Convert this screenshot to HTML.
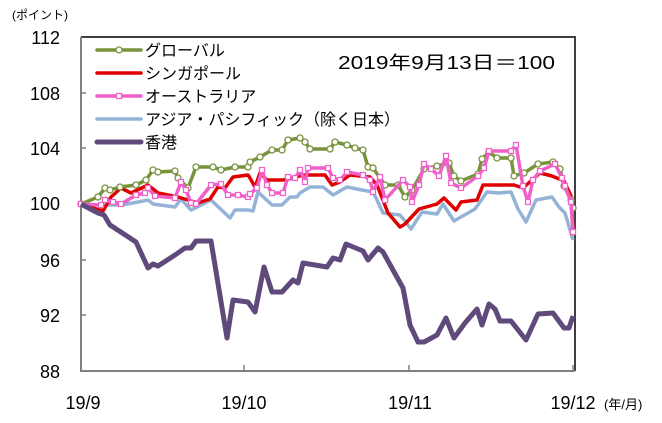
<!DOCTYPE html>
<html><head><meta charset="utf-8"><style>
html,body{margin:0;padding:0;background:#fff;}
svg text{font-family:"Liberation Sans","Noto Sans CJK JP",sans-serif;fill:#000;}
</style></head><body>
<svg id="s" width="662" height="418" viewBox="0 0 662 418" xmlns="http://www.w3.org/2000/svg">
<rect x="0" y="0" width="662" height="418" fill="#fff"/>
<text x="12" y="19" font-size="12">(ポイント)</text>
<g font-size="18" text-anchor="end">
<text x="60" y="44">112</text><text x="60" y="100">108</text><text x="60" y="155">104</text>
<text x="60" y="210">100</text><text x="60" y="267">96</text><text x="60" y="322">92</text><text x="60" y="378">88</text>
</g>
<g font-size="18" text-anchor="middle">
<text x="83" y="409">19/9</text><text x="244" y="409">19/10</text><text x="410" y="409">19/11</text><text x="573" y="409">19/12</text>
</g>
<text x="604" y="409" font-size="13">(年/月)</text>
<path d="M81,37 H575 V371" fill="none" stroke="#404040" stroke-width="2"/>
<path d="M81,37 V371 H575" fill="none" stroke="#808080" stroke-width="2"/>
<g stroke="#808080" stroke-width="1.5">
<line x1="81" y1="93" x2="86" y2="93"/><line x1="81" y1="148" x2="86" y2="148"/><line x1="81" y1="203" x2="86" y2="203"/>
<line x1="81" y1="260" x2="86" y2="260"/><line x1="81" y1="315" x2="86" y2="315"/>
<line x1="244" y1="371" x2="244" y2="365"/><line x1="409" y1="371" x2="409" y2="365"/><line x1="573" y1="371" x2="573" y2="365"/>
</g>
<g id="series" fill="none" stroke-linejoin="round"></g>
<g id="legend"></g>
<text x="338" y="69" font-size="18" textLength="217" lengthAdjust="spacingAndGlyphs">2019年9月13日＝100</text>
</svg>
<script>
var NS="http://www.w3.org/2000/svg";
function el(n,a,p){var e=document.createElementNS(NS,n);for(var k in a)e.setAttribute(k,a[k]);p.appendChild(e);return e;}
var blue=[[81,204],[100,212],[106,205],[121,205],[138,202],[148,200],[153,204],[175,207],[181,199],[191,210],[211,200],[230,218],[235,210],[248,210],[253,211],[258,192],[272,205],[282,205],[290,197],[297,197],[300,193],[310,187],[323,187],[333,195],[347,187],[362,190],[373,192],[377,200],[383,213],[400,215],[405,221],[411,229],[422,212],[437,214],[443,204],[454,221],[475,209],[487,192],[499,193],[511,192],[518,209],[526,222],[536,200],[552,197],[559,207],[565,213],[573,240]];
var red=[[81,204],[103,211],[111,197],[121,188],[131,193],[148,185],[158,193],[178,197],[188,200],[198,203],[210,199],[218,187],[225,188],[233,177],[248,175],[250,178],[255,187],[260,173],[267,180],[283,180],[293,178],[303,175],[325,175],[332,185],[340,182],[350,175],[370,177],[377,185],[388,213],[400,227],[405,224],[419,209],[437,204],[444,198],[456,210],[461,202],[477,200],[483,185],[514,185],[523,188],[540,173],[552,176],[564,181],[571,196],[573,230]];
var green=[[81,204],[98,197],[105,188],[110,190],[120,187],[136,185],[146,180],[153,170],[158,172],[175,171],[178,178],[188,188],[196,167],[213,167],[221,170],[235,167],[248,167],[250,162],[260,157],[272,150],[282,150],[288,140],[300,138],[305,142],[310,149],[330,149],[335,142],[347,145],[355,148],[363,150],[368,167],[373,168],[385,185],[398,185],[405,197],[412,190],[424,169],[437,166],[449,163],[454,176],[461,181],[478,174],[482,159],[489,152],[497,158],[511,158],[514,176],[524,173],[538,164],[553,162],[560,169],[564,186],[571,200],[573,208]];
var pink=[[81,204],[101,205],[105,200],[113,202],[121,204],[136,195],[145,193],[148,188],[155,196],[175,198],[181,182],[186,190],[191,203],[196,204],[211,185],[221,184],[228,195],[238,195],[248,197],[250,194],[257,188],[262,170],[267,185],[272,193],[283,193],[288,177],[295,178],[300,170],[305,182],[308,168],[328,168],[333,178],[340,180],[347,172],[363,175],[370,180],[373,192],[380,177],[385,200],[403,180],[410,187],[412,202],[419,185],[424,164],[431,169],[439,176],[446,156],[451,183],[461,188],[478,176],[484,168],[489,151],[511,151],[516,145],[523,186],[528,202],[533,180],[540,171],[555,164],[562,178],[565,186],[571,202],[573,232]];
var hk=[[81,204],[98,213],[104,215],[110,225],[136,242],[148,268],[153,264],[158,266],[175,255],[185,248],[191,248],[196,241],[211,241],[227,338],[233,300],[248,302],[255,312],[264,267],[272,292],[282,292],[293,280],[298,283],[303,263],[327,267],[333,258],[340,260],[346,244],[363,251],[368,260],[378,248],[383,252],[403,288],[410,325],[418,342],[424,342],[437,335],[446,318],[454,338],[465,323],[477,309],[482,325],[489,304],[495,309],[500,321],[511,321],[526,340],[538,314],[553,313],[564,328],[569,328],[573,316]];
var g=document.getElementById("series");
function line(pts,c,w){el("polyline",{points:pts.map(function(p){return p.join(",")}).join(" "),stroke:c,"stroke-width":w},g);}
line(blue,"#95b3d7",3.5);line(red,"#e00000",3.5);line(green,"#77933c",3.5);
green.forEach(function(p){el("circle",{cx:p[0],cy:p[1],r:3,fill:"#fff",stroke:"#77933c","stroke-width":1.3},g);});
line(pink,"#f060c8",3.5);
pink.forEach(function(p){el("rect",{x:p[0]-2.5,y:p[1]-2.5,width:5,height:5,fill:"#fff",stroke:"#f060c8","stroke-width":1.3},g);});
line(hk,"#604a7b",5);
var L=document.getElementById("legend");
var items=[["グローバル","#77933c",3.5,"c"],["シンガポール","#e00000",3.5,""],["オーストラリア","#f060c8",3.5,"s"],["アジア・パシフィック（除く日本）","#95b3d7",3.5,""],["香港","#604a7b",5,""]];
items.forEach(function(it,i){var y=50+i*23;
el("line",{x1:97,y1:y,x2:141,y2:y,stroke:it[1],"stroke-width":it[2],"stroke-linecap":"round"},L);
if(it[3]=="c")el("circle",{cx:119,cy:y,r:3,fill:"#fff",stroke:it[1],"stroke-width":1.3},L);
if(it[3]=="s")el("rect",{x:116.5,y:y-2.5,width:5,height:5,fill:"#fff",stroke:it[1],"stroke-width":1.3},L);
var t=el("text",{x:145,y:y+6,"font-size":"16"},L);t.textContent=it[0];});
</script>
</body></html>
